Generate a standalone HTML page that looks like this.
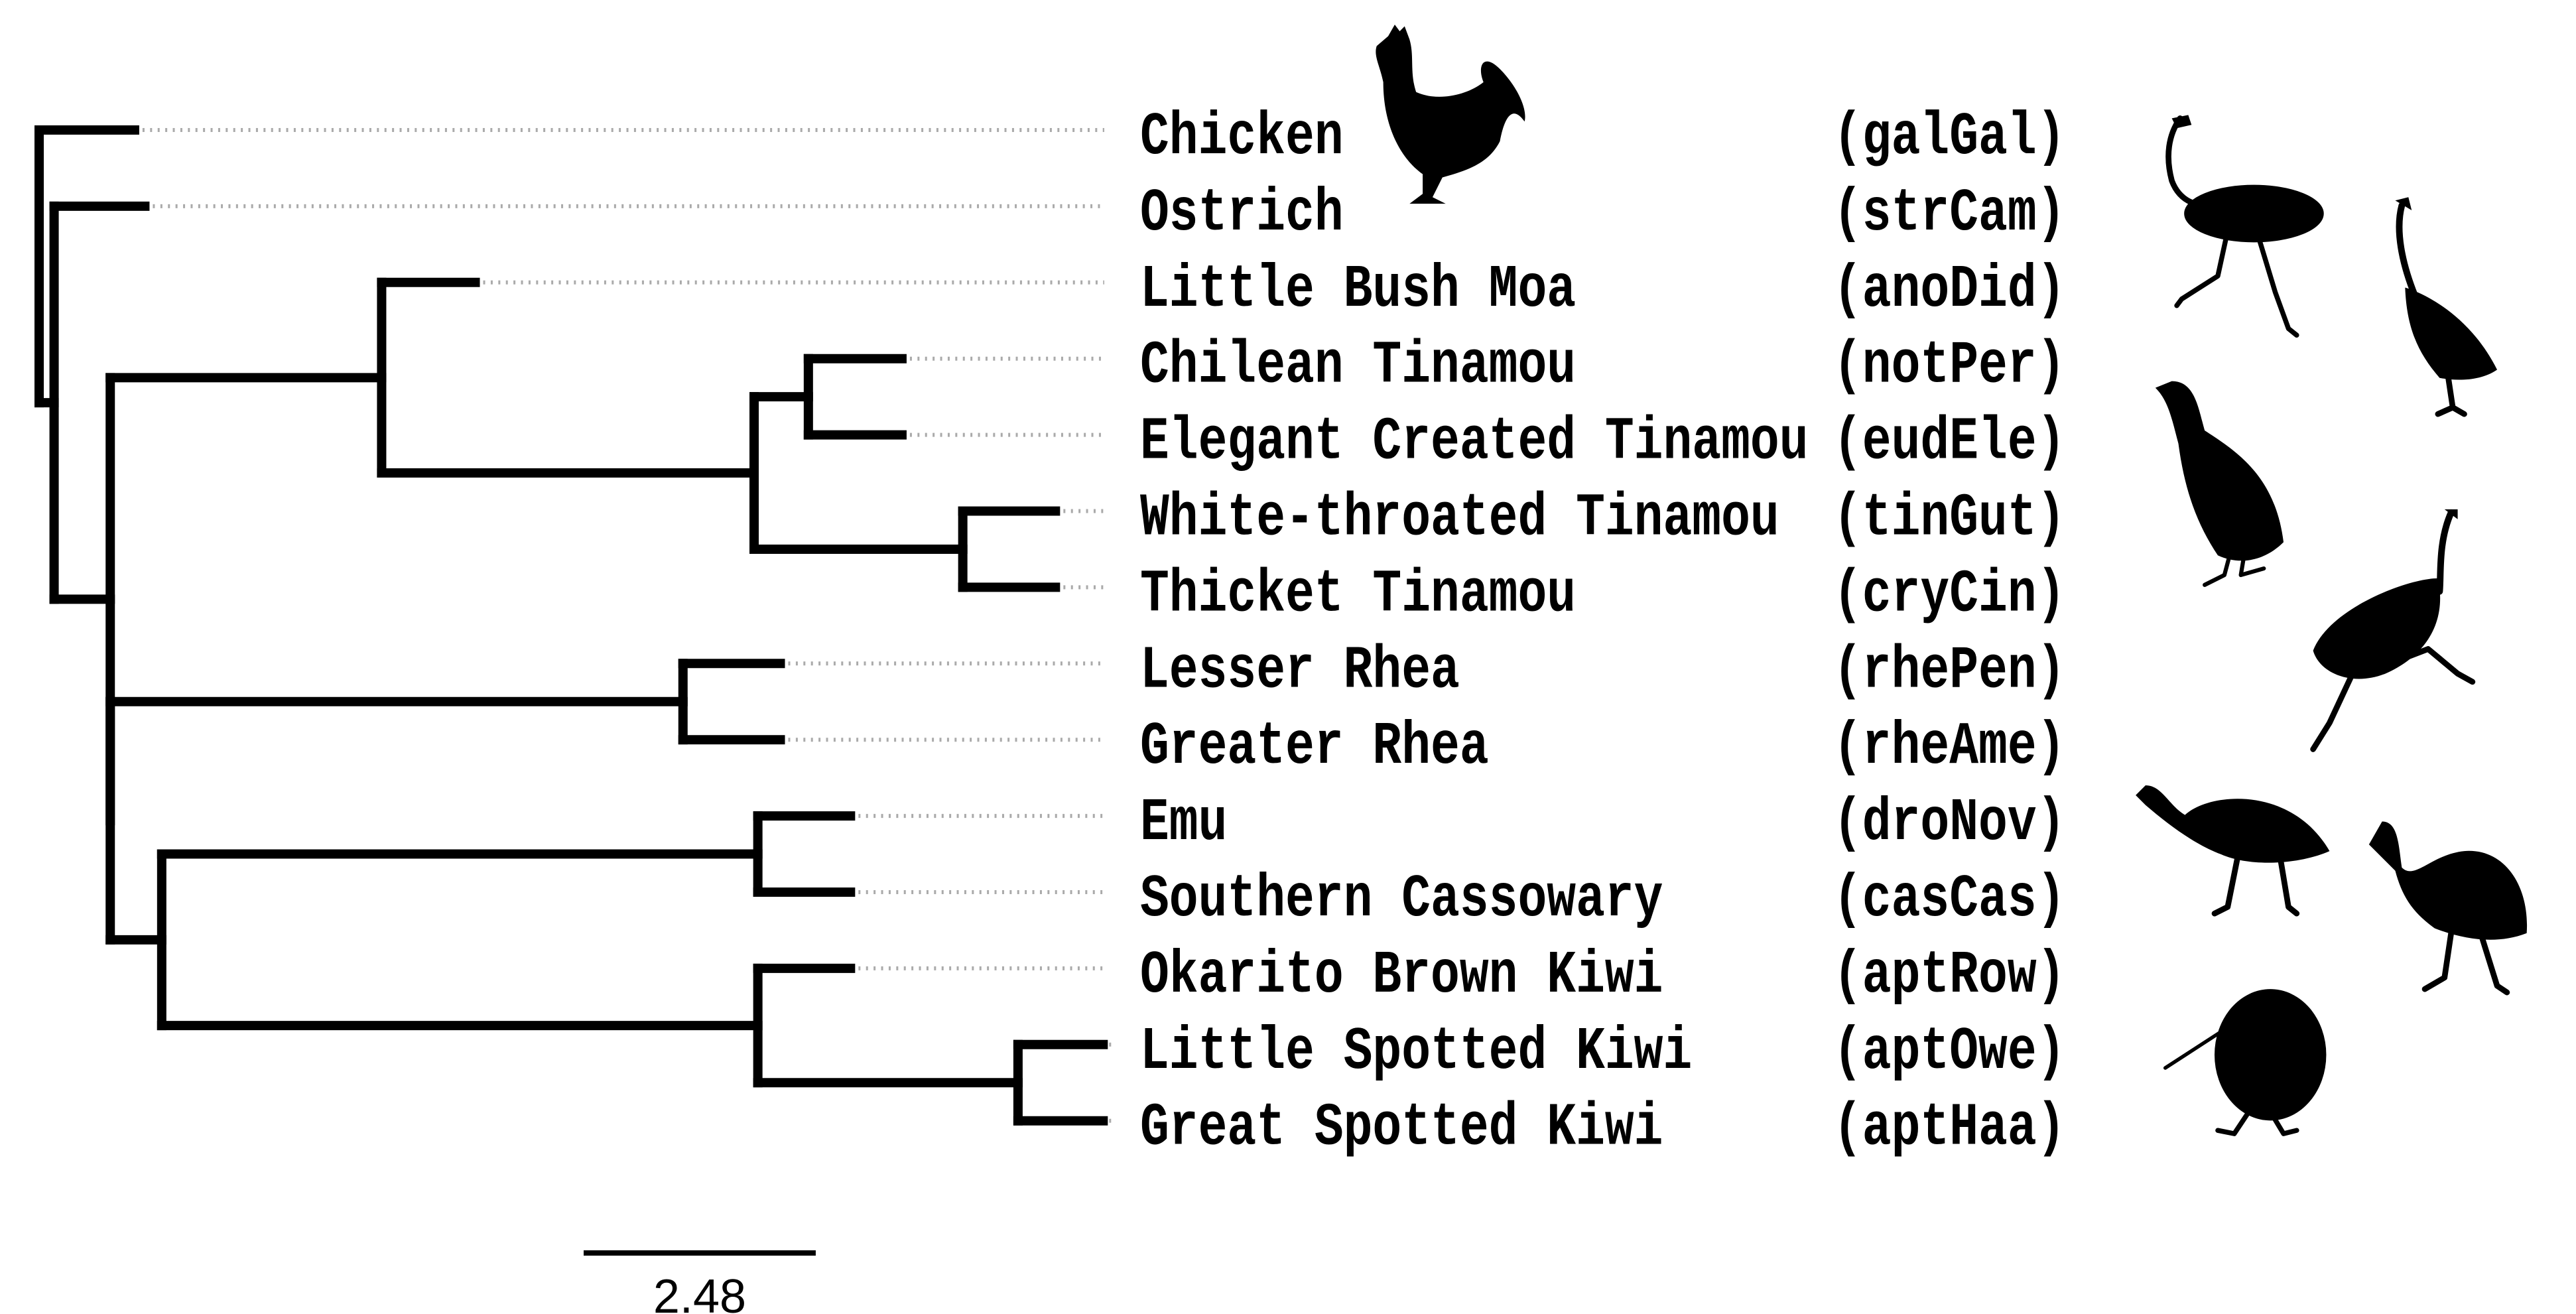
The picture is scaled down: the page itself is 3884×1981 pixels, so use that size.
<!DOCTYPE html>
<html><head><meta charset="utf-8">
<style>
html,body{margin:0;padding:0;background:#fff;}
svg{display:block;}
.lbl{font-family:"Liberation Mono",monospace;font-weight:bold;font-size:73px;fill:#000;}
</style></head>
<body>
<svg id="chart" width="3884" height="1981" viewBox="0 0 3884 1981" xmlns="http://www.w3.org/2000/svg">
<g id="tree"></g>
<g id="dots"></g>
<g id="labels"></g>
<g id="sil" transform="scale(2.477)" fill="#000" stroke="#000" stroke-linecap="round" stroke-linejoin="round">
 <g>
  <path stroke="none" d="M845,22 L849,15 L852,19 L855,16 L858,24 C861,34 858,44 862,56 C875,62 893,58 903,50 C899,40 903,32 913,42 C923,52 930,66 928,74 C921,64 916,70 913,86 C906,100 892,104 878,108 L872,120 L880,124 L858,124 L866,118 L866,106 C852,96 842,76 842,50 C840,40 836,34 838,28 Z"/>
 </g>
 <g>
  <path fill="none" stroke-width="3.5" d="M1327,72 C1320,82 1318,95 1322,110 C1325,118 1330,122 1336,124"/>
  <ellipse cx="1372" cy="130" rx="42" ry="17"/>
  <path fill="none" stroke-width="3" d="M1355,145 L1350,168 L1328,182 L1325,186 M1375,145 L1385,178 L1393,200 L1398,204"/>
  <path stroke="none" d="M1322,72 L1332,70 L1334,76 L1325,78 Z"/>
 </g>
 <g>
  <path fill="none" stroke-width="4" d="M1462,125 C1458,140 1462,160 1470,180"/>
  <path stroke="none" d="M1458,122 L1466,120 L1468,128 Z M1464,175 C1480,180 1505,195 1520,225 C1510,232 1495,232 1485,230 C1472,215 1465,200 1464,175 Z"/>
  <path fill="none" stroke-width="3.5" d="M1490,228 L1493,248 L1484,252 M1493,248 L1500,252"/>
 </g>
 <g>
  <path stroke="none" d="M1312,236 L1322,232 C1336,232 1338,248 1342,262 C1362,275 1385,290 1390,330 C1380,340 1365,345 1350,338 C1338,320 1330,300 1326,270 C1322,255 1320,244 1312,236 Z"/>
  <path fill="none" stroke-width="2.5" d="M1358,335 L1354,350 L1342,356 M1366,338 L1364,350 L1378,346"/>
 </g>
 <g>
  <path fill="none" stroke-width="4" d="M1492,312 C1484,330 1486,350 1485,360"/>
  <path stroke="none" d="M1488,310 L1496,310 L1496,316 Z M1484,352 C1466,352 1418,370 1408,396 C1412,410 1432,418 1452,410 C1475,400 1490,380 1484,352 Z"/>
  <path fill="none" stroke-width="3.5" d="M1432,410 L1418,440 L1408,456 M1452,405 L1478,395 L1496,410 L1505,415"/>
 </g>
 <g>
  <path stroke="none" d="M1300,484 L1306,478 C1316,478 1320,490 1330,496 C1345,482 1395,478 1418,518 C1400,526 1370,528 1352,520 C1336,514 1320,502 1306,490 Z"/>
  <path fill="none" stroke-width="3.5" d="M1362,522 L1356,552 L1348,556 M1388,522 L1393,552 L1398,556"/>
 </g>
 <g>
  <path stroke="none" d="M1442,514 L1450,500 C1460,500 1460,515 1462,528 C1470,536 1480,520 1500,518 C1525,516 1540,540 1538,568 C1520,575 1500,572 1482,565 C1468,555 1462,545 1458,530 Z"/>
  <path fill="none" stroke-width="3.5" d="M1492,568 L1488,595 L1476,602 M1510,568 L1520,600 L1526,604"/>
 </g>
 <g>
  <ellipse stroke="none" cx="1382" cy="642" rx="34" ry="40"/>
  <path fill="none" stroke-width="2.2" d="M1355,626 L1318,650"/>
  <path fill="none" stroke-width="3" d="M1368,678 L1360,690 L1350,688 M1384,680 L1390,690 L1398,688"/>
 </g>
</g>
<g>
 <line id="scaleLine" stroke="#000" stroke-width="8"/>
 <text id="scaleText" font-family="Liberation Sans, sans-serif" font-size="72" text-anchor="middle"></text>
</g>
</svg>
<script>
// ---- tree data ----
const leafNames = ["Chicken","Ostrich","Little Bush Moa","Chilean Tinamou","Elegant Created Tinamou","White-throated Tinamou","Thicket Tinamou","Lesser Rhea","Greater Rhea","Emu","Southern Cassowary","Okarito Brown Kiwi","Little Spotted Kiwi","Great Spotted Kiwi"];
const leafCodes = ["(galGal)","(strCam)","(anoDid)","(notPer)","(eudEle)","(tinGut)","(cryCin)","(rhePen)","(rheAme)","(droNov)","(casCas)","(aptRow)","(aptOwe)","(aptHaa)"];
// node ids, parent ids, and branch lengths (units) — leaves are L0..L13
const nodeIds      = ["root","A","B","C","D","T1","T2","Bp","R","E","RC","F","K","L0","L1","L2","L3","L4","L5","L6","L7","L8","L9","L10","L11","L12","L13"];
const nodeParents  = [null,"root","A","B","C","D","D","B","Bp","Bp","E","E","F","root","A","C","T1","T1","T2","T2","R","R","RC","RC","F","K","K"];
const branchLengths= [0,0.16,0.60,2.90,3.98,0.58,2.23,0,6.12,0.55,6.37,6.37,2.78,1.02,0.97,1.00,1.00,1.00,0.99,0.99,1.04,1.04,0.99,0.99,0.99,0.91,0.91];
const scaleValue = 2.48;

// ---- axis functions ----
const X0 = 59, PX_PER_UNIT = 141.1;
const xScale = d => X0 + d * PX_PER_UNIT;
const ROW0 = 196, ROW_STEP = 114.9;
const yScale = i => ROW0 + i * ROW_STEP;

const NS = "http://www.w3.org/2000/svg";
const nodes = {};
nodeIds.forEach((id,i)=>{ nodes[id] = {id, parent:nodeParents[i], bl:branchLengths[i], children:[]}; });
nodeIds.forEach(id=>{ const n=nodes[id]; if(n.parent) nodes[n.parent].children.push(n); });
function depth(n){ n.depth = (n.parent? nodes[n.parent].depth:0) + n.bl; n.children.forEach(depth); }
depth(nodes.root);
function ypos(n){
  if(n.id[0]==="L" && n.children.length===0){ n.y = yScale(parseInt(n.id.slice(1))); return n.y; }
  const ys = n.children.map(ypos);
  n.y = (ys[0] + ys[ys.length-1]) / 2; return n.y;
}
ypos(nodes.root);

const tree = document.getElementById('tree');
function line(g,x1,y1,x2,y2,attrs,name){
  const l = document.createElementNS(NS,'line');
  l.setAttribute('x1',x1);l.setAttribute('y1',y1);l.setAttribute('x2',x2);l.setAttribute('y2',y2);
  for(const k in attrs) l.setAttribute(k,attrs[k]);
  
  
  g.appendChild(l); return l;
}
const br = {stroke:'#000','stroke-width':14,'stroke-linecap':'square'};
nodeIds.forEach(id=>{
  const n = nodes[id];
  const x = xScale(n.depth);
  if(n.parent && n.bl>0){
    line(tree, xScale(nodes[n.parent].depth), n.y, x, n.y, br, 'branch-'+id);
  }
  if(n.children.length){
    const ys = n.children.map(c=>c.y);
    line(tree, x, Math.min(...ys), x, Math.max(...ys), br, 'node-'+id);
  }
});

// leader dots & labels
const dots = document.getElementById('dots');
const labels = document.getElementById('labels');
leafNames.forEach((name,i)=>{
  const n = nodes['L'+i];
  const tip = xScale(n.depth);
  line(dots, tip+12, n.y, 1665, n.y, {stroke:'#aaa','stroke-width':6,'stroke-dasharray':'3 8.4'}, 'leader-line-'+i);
  const t = document.createElementNS(NS,'text');
  t.setAttribute('class','lbl');
  t.setAttribute('transform','translate(1719,'+(n.y+35)+') scale(1,1.25)');
  t.textContent = name;
  
  
  labels.appendChild(t);
  const c = document.createElementNS(NS,'text');
  c.setAttribute('class','lbl');
  c.setAttribute('transform','translate(2764,'+(n.y+35)+') scale(1,1.25)');
  c.textContent = leafCodes[i];
  
  
  labels.appendChild(c);
});

// scale bar
const sx1 = 880, sx2 = sx1 + scaleValue * PX_PER_UNIT;
const sl = document.getElementById('scaleLine');
sl.setAttribute('x1',sx1);sl.setAttribute('x2',sx2);sl.setAttribute('y1',1889);sl.setAttribute('y2',1889);
const st = document.getElementById('scaleText');
st.setAttribute('x',(sx1+sx2)/2);st.setAttribute('y',1979);
st.textContent = scaleValue.toFixed(2);
</script>
</body></html>
